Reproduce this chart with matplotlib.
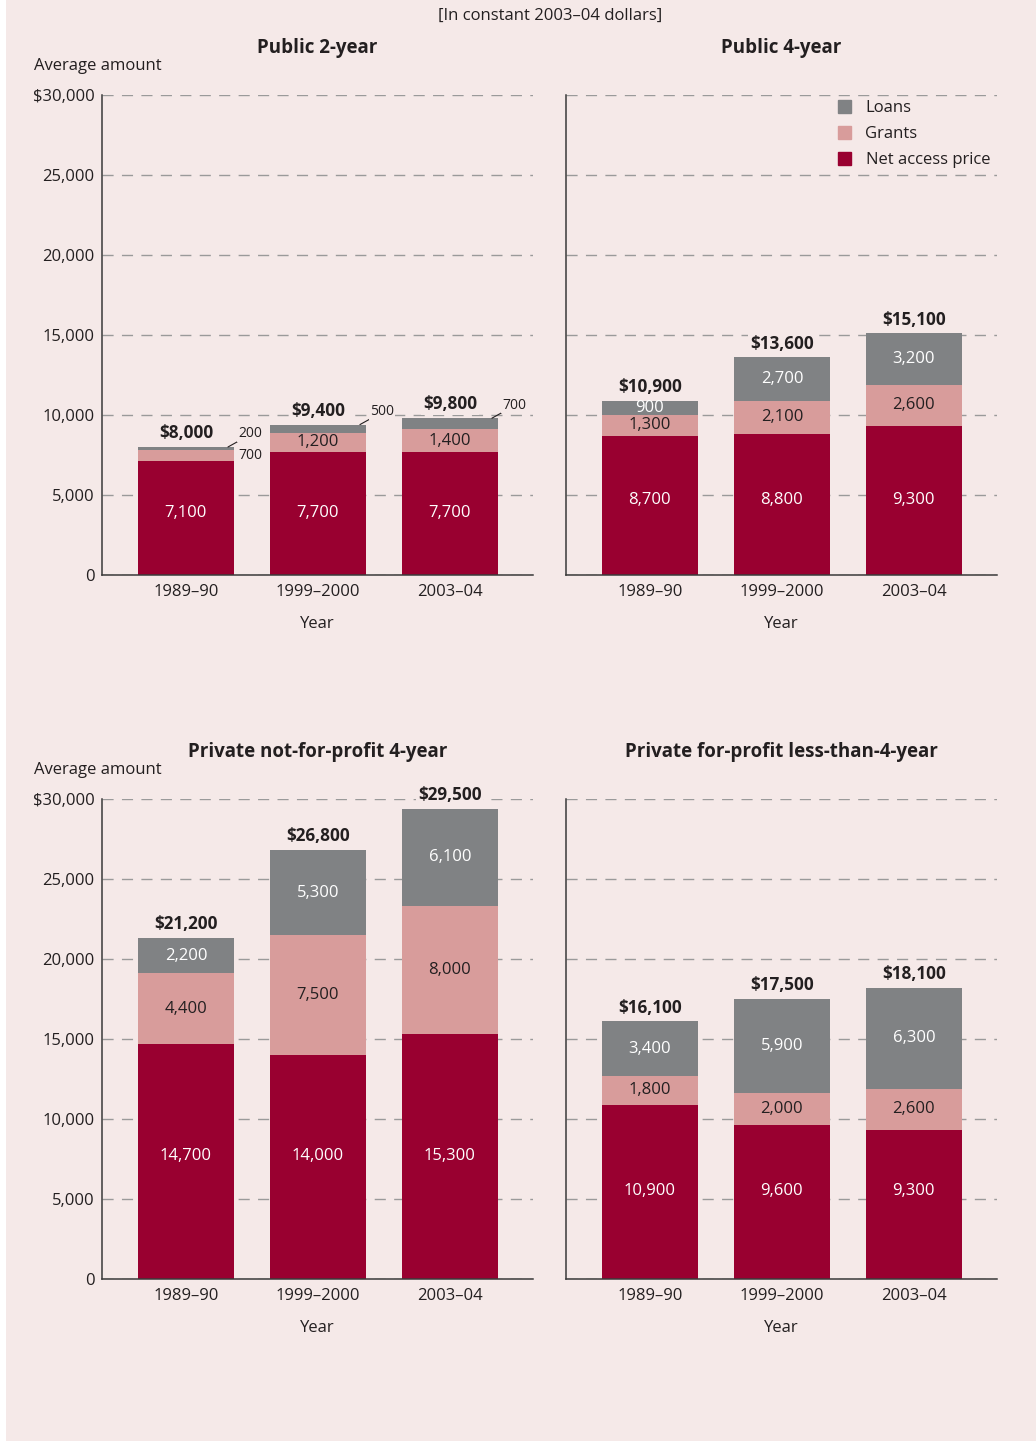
import matplotlib.pyplot as plt
from matplotlib.patches import Patch, Rectangle

plt.rcParams['font.family'] = ['Open Sans', 'DejaVu Sans']

# data
years = ['1989–90', '1999–2000', '2003–04']
panels = ['Public 2-year', 'Public 4-year',
          'Private not-for-profit 4-year', 'Private for-profit less-than-4-year']
net = [[7100, 7700, 7700], [8700, 8800, 9300], [14700, 14000, 15300], [10900, 9600, 9300]]
grants = [[700, 1200, 1400], [1300, 2100, 2600], [4400, 7500, 8000], [1800, 2000, 2600]]
loans = [[200, 500, 700], [900, 2700, 3200], [2200, 5300, 6100], [3400, 5900, 6300]]
totals = [[8000, 9400, 9800], [10900, 13600, 15100], [21200, 26800, 29500], [16100, 17500, 18100]]
yticks = [0, 5000, 10000, 15000, 20000, 25000, 30000]
ytick_labels = ['0', '5,000', '10,000', '15,000', '20,000', '25,000', '$30,000']

# label height for the net price figures, one per panel (layout)
net_label_y = [3875, 4690, 7690, 5500]

# colours
bg = '#f5e9e8'
c_net = '#990030'
c_grant = '#d89c9b'
c_loan = '#808284'
ink = '#231f20'

W, H = 1036, 1441
fig = plt.figure(figsize=(W / 100, H / 100), dpi=100, facecolor=bg)
fig.patches.append(Rectangle((0, 0), 6 / W, 1, transform=fig.transFigure,
                             facecolor='white', edgecolor='none'))

# axes boxes in pixels: left, right, top(30000), bottom(0)
boxes = [(102, 533, 95, 575), (566, 997, 95, 575),
         (102, 533, 799, 1279), (566, 997, 799, 1279)]

fs = 12
bw = 0.727
for k, ax_box in enumerate(boxes):
    l, r, t, b = ax_box
    ax = fig.add_axes([l / W, 1 - b / H, (r - l) / W, (b - t) / H])
    ax.set_facecolor(bg)
    x = range(len(years))
    bottoms2 = [n + g for n, g in zip(net[k], grants[k])]
    ax.bar(x, net[k], bw, color=c_net, zorder=2)
    ax.bar(x, grants[k], bw, bottom=net[k], color=c_grant, zorder=2)
    ax.bar(x, loans[k], bw, bottom=bottoms2, color=c_loan, zorder=2)
    ax.set_xlim(-0.636, 2.63)
    ax.set_ylim(0, 30000)
    ax.set_axisbelow(True)
    ax.yaxis.grid(True, color='#9a9a9a', lw=1, linestyle=(0, (8, 6)))
    for s in ['top', 'right']:
        ax.spines[s].set_visible(False)
    for s in ['left', 'bottom']:
        ax.spines[s].set_color('#3a3a3a')
        ax.spines[s].set_linewidth(1.1)
    ax.set_yticks(yticks)
    if k % 2 == 0:
        ax.set_yticklabels(ytick_labels, fontsize=fs, color=ink)
    else:
        ax.set_yticklabels([])
    ax.set_xticks(list(x))
    ax.set_xticklabels(years, fontsize=fs, color=ink)
    ax.tick_params(axis='both', length=0, pad=5.5)
    ax.tick_params(axis='x', pad=6.5)
    ax.set_xlabel('Year', fontsize=fs, color=ink, labelpad=11.5)
    ax.set_title(panels[k], fontsize=13.5, fontweight='bold', color=ink, pad=30)

    for i in range(len(years)):
        n, g, lo = net[k][i], grants[k][i], loans[k][i]
        ax.text(i, net_label_y[k], f'{n:,}', ha='center', va='center', color='white',
                fontsize=fs)
        right = i + bw / 2
        if g >= 800:
            ax.text(i, n + g / 2, f'{g:,}', ha='center', va='center', color=ink, fontsize=fs)
        else:
            ax.annotate(f'{g:,}', xy=(right, n + g / 2), xytext=(3, 0),
                        textcoords='offset points', ha='left', va='center',
                        color=ink, fontsize=10)
        top = n + g + lo
        if lo >= 800:
            ax.text(i, n + g + lo / 2, f'{lo:,}', ha='center', va='center', color='white',
                    fontsize=fs)
        else:
            ax.annotate(f'{lo:,}', xy=(right - 0.045, top), xytext=(7.2, 9.4),
                        textcoords='offset points', ha='left', va='center',
                        color=ink, fontsize=10,
                        bbox=dict(boxstyle='square,pad=0.05', fc=bg, ec='none'),
                        arrowprops=dict(arrowstyle='-', color=ink, lw=0.8,
                                        relpos=(0, 0), shrinkA=0, shrinkB=0))
        ax.annotate(f'${totals[k][i]:,}', xy=(i, top), xytext=(0, 10),
                    textcoords='offset points', ha='center', va='center',
                    fontsize=12.3, fontweight='bold', color=ink,
                    bbox=dict(boxstyle='square,pad=0.1', fc=bg, ec='none'))

    if k == 1:
        handles = [Patch(color=c_loan), Patch(color=c_grant), Patch(color=c_net)]
        ax.legend(handles, ['Loans', 'Grants', 'Net access price'],
                  loc='upper left', bbox_to_anchor=((838 - l) / (r - l), 1 - (100 - t) / (b - t)),
                  frameon=False, fontsize=fs, handlelength=0.8, handleheight=0.8,
                  labelspacing=0.6, handletextpad=0.85, borderpad=0, borderaxespad=0,
                  labelcolor=ink)

fig.text(550 / W, 1 - 16 / H, '[In constant 2003–04 dollars]', ha='center', va='center',
         fontsize=fs, color=ink)
for yy in (66, 770):
    fig.text(34 / W, 1 - yy / H, 'Average amount', ha='left', va='center',
             fontsize=fs, color=ink)

fig.savefig('out.png', dpi=100, facecolor=bg)
